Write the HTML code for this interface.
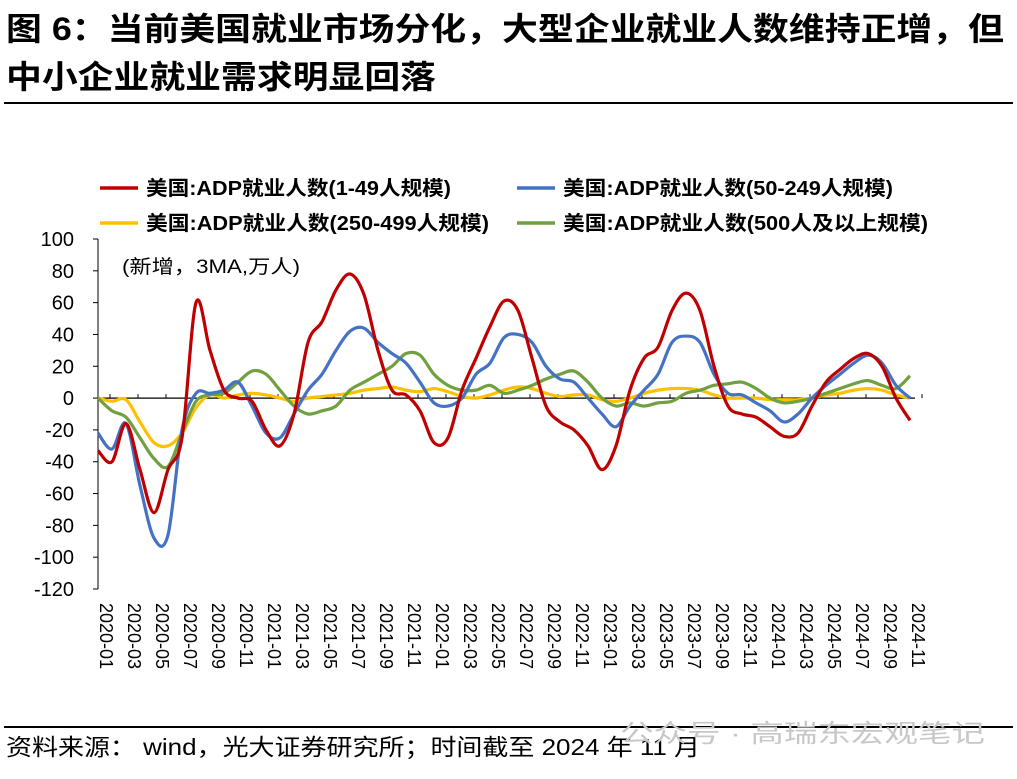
<!DOCTYPE html>
<html><head><meta charset="utf-8"><style>
body{margin:0;background:#fff;width:1017px;height:774px;overflow:hidden;font-family:"Liberation Sans","Noto Sans CJK SC",sans-serif}
</style></head><body>
<svg width="1017" height="774" xmlns="http://www.w3.org/2000/svg">
<text x="6" y="40" font-size="32" font-weight="bold" fill="#000" textLength="998" lengthAdjust="spacingAndGlyphs" font-family="Liberation Sans, Noto Sans CJK SC, sans-serif">图 6：当前美国就业市场分化，大型企业就业人数维持正增，但</text>
<text x="6" y="88" font-size="32" font-weight="bold" fill="#000" textLength="430" lengthAdjust="spacingAndGlyphs" font-family="Liberation Sans, Noto Sans CJK SC, sans-serif">中小企业就业需求明显回落</text>
<line x1="4" y1="103" x2="1013" y2="103" stroke="#000" stroke-width="2"/>
<g id="legend" font-size="20" font-weight="bold" font-family="Liberation Sans, Noto Sans CJK SC, sans-serif"></g>
<text x="122" y="273" font-size="19" fill="#000" textLength="178" lengthAdjust="spacingAndGlyphs" font-family="Liberation Sans, Noto Sans CJK SC, sans-serif">(新增，3MA,万人)</text>
<g id="axes"></g>
<g id="series"></g>
<line x1="4" y1="727" x2="1013" y2="727" stroke="#000" stroke-width="2"/>
<text x="6" y="755" font-size="23" fill="#000" textLength="694" lengthAdjust="spacingAndGlyphs" font-family="Liberation Sans, Noto Sans CJK SC, sans-serif">资料来源： wind，光大证券研究所；时间截至 2024 年 11 月</text>
<text x="620" y="742" font-size="25" fill="#c8c8c8" textLength="365" lengthAdjust="spacingAndGlyphs" font-family="Liberation Sans, Noto Sans CJK SC, sans-serif">公众号 · 高瑞东宏观笔记</text>
</svg>
<script>
const seriesNames=["美国:ADP就业人数(1-49人规模)","美国:ADP就业人数(50-249人规模)","美国:ADP就业人数(250-499人规模)","美国:ADP就业人数(500人及以上规模)"];
const seriesColors=["#c00000","#4472c4","#ffc000","#70a040"];
const small=[-33,-40,-16,-45,-72,-45,-25,60,30,5,0,-2,-20,-30,-10,35,48,68,78,65,30,5,2,-8,-28,-25,5,25,45,61,55,25,-5,-15,-20,-30,-45,-30,5,25,32,55,66,55,20,-5,-10,-12,-18,-24,-22,-5,10,18,25,28,20,0,-14];
const mid=[-22,-32,-16,-55,-88,-86,-20,3,3,5,10,-5,-22,-25,-10,5,15,30,42,44,35,28,22,10,-3,-5,0,15,22,38,40,35,20,12,10,0,-10,-18,-5,5,15,35,39,35,15,3,2,-3,-8,-15,-10,0,8,15,22,27,22,8,0];
const large=[0,-2,-1,-15,-28,-30,-22,-6,2,0,2,3,2,0,-2,0,1,2,3,5,6,7,5,4,6,4,1,0,2,5,7,6,3,1,2,2,-1,-2,0,3,5,6,6,5,2,0,0,0,-1,-1,-1,0,2,3,5,6,5,2,0];
const xlarge=[0,-8,-12,-25,-38,-43,-22,-2,2,3,10,17,15,5,-5,-10,-8,-5,5,10,15,20,28,27,15,8,5,5,8,3,5,8,12,15,17,10,0,-5,-3,-5,-3,-2,3,5,8,9,10,6,0,-3,-2,0,3,6,9,11,8,6,14];
const yTicks=[100,80,60,40,20,0,-20,-40,-60,-80,-100,-120];
const xLabels=["2020-01","2020-03","2020-05","2020-07","2020-09","2020-11","2021-01","2021-03","2021-05","2021-07","2021-09","2021-11","2022-01","2022-03","2022-05","2022-07","2022-09","2022-11","2023-01","2023-03","2023-05","2023-07","2023-09","2023-11","2024-01","2024-03","2024-05","2024-07","2024-09","2024-11"];
const NS="http://www.w3.org/2000/svg";
const X0=98,X1=910,YTOP=239,YBOT=589;
const xs=i=>X0+(X1-X0)*i/(small.length-1);
const ys=v=>YTOP+(100-v)*(YBOT-YTOP)/220;
const axes=document.getElementById('axes');
function mk(t,a,p){const e=document.createElementNS(NS,t);for(const k in a)e.setAttribute(k,a[k]);p.appendChild(e);return e;}
const yl=mk('line',{x1:X0,y1:YTOP,x2:X0,y2:YBOT,stroke:'#000','stroke-width':1},axes);


yTicks.forEach(v=>{
  const tk=mk('line',{x1:X0-5,y1:ys(v),x2:X0,y2:ys(v),stroke:'#000'},axes);
  
  
  const t=mk('text',{x:74,y:ys(v)+7,'font-size':20,'text-anchor':'end',fill:'#000'},axes);
  t.textContent=v;
  
  
});
const xl=mk('line',{x1:X0,y1:ys(0),x2:915,y2:ys(0),stroke:'#000','stroke-width':1.2},axes);


xLabels.forEach((s,k)=>{
  const x=xs(2*k);
  const tk=mk('line',{x1:x+12,y1:ys(0)-4,x2:x+12,y2:ys(0),stroke:'#000'},axes);
  
  
  const t=mk('text',{x:0,y:0,'font-size':18,fill:'#000',transform:`translate(${100+28*k},603) rotate(90)`},axes);
  t.textContent=s;
  
  
});
function smooth(arr){
  const p=arr.map((v,i)=>[xs(i),ys(v)]);
  let d=`M${p[0][0]},${p[0][1]}`;
  for(let i=0;i<p.length-1;i++){
    const p0=p[Math.max(0,i-1)],p1=p[i],p2=p[i+1],p3=p[Math.min(p.length-1,i+2)];
    d+=` C${p1[0]+(p2[0]-p0[0])/6},${p1[1]+(p2[1]-p0[1])/6} ${p2[0]-(p3[0]-p1[0])/6},${p2[1]-(p3[1]-p1[1])/6} ${p2[0]},${p2[1]}`;
  }
  return d;
}
const sg=document.getElementById('series');
const data=[small,mid,large,xlarge];
const ids=['line-1-49','line-50-249','line-250-499','line-500-plus'];
[2,3,1,0].forEach(j=>{
  const pth=mk('path',{d:smooth(data[j]),fill:'none',stroke:seriesColors[j],'stroke-width':3.2,'stroke-linejoin':'round'},sg);
  
  
});
const lg=document.getElementById('legend');
const lpos=[[100,188],[517,188],[100,223],[517,223]];
const lw=[305,330,343,365];
seriesNames.forEach((n,j)=>{
  const [x,y]=lpos[j];
  const ln=mk('line',{x1:x,y1:y,x2:x+38,y2:y,stroke:seriesColors[j],'stroke-width':3.5},lg);
  
  
  const t=mk('text',{x:x+46,y:y+7,fill:'#000',textLength:lw[j],lengthAdjust:'spacingAndGlyphs'},lg);
  t.textContent=n;
  
  
});
</script>
</body></html>
